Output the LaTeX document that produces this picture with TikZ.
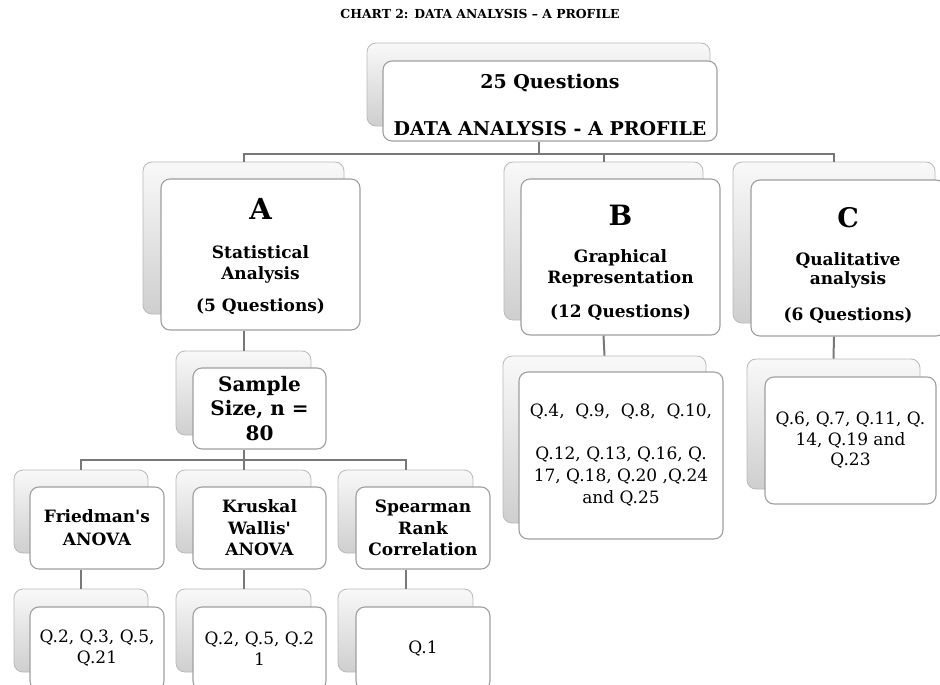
\documentclass[tikz,border=0pt]{standalone}
\usepackage{fontspec}
\setmainfont{DejaVu Serif}
% card placed by its corners: name, style, x1, y1, x2, y2, text
\newcommand\placecard[7]{%
  \pgfmathsetmacro\cardcx{(#3+#5)/2}%
  \pgfmathsetmacro\cardcy{(#4+#6)/2}%
  \pgfmathsetmacro\cardw{#5-#3}%
  \pgfmathsetmacro\cardh{#6-#4}%
  \node[#2, minimum width=\cardw pt, minimum height=\cardh pt] (#1) at (\cardcx,\cardcy) {#7};}
% invisible strut that adds room above the first line of a card
\newcommand\toproom[1]{\rule{0pt}{#1}}
\begin{document}
\begin{tikzpicture}[x=1pt,y=-1pt,
  backbox/.style={draw=gray!55, line width=0.8pt, rounded corners=9pt,
                  top color=gray!5, bottom color=gray!38, inner sep=0pt},
  frontbox/.style={draw=gray!75, line width=1.1pt, rounded corners=9pt,
                   fill=white, inner sep=0pt, align=center, text=black},
  headfont/.style={font=\fontsize{17}{21}\selectfont\bfseries},
  leaffont/.style={font=\fontsize{17}{21}\selectfont},
  conn/.style={draw={rgb,255:red,120;green,120;blue,120}, line width=2pt}]
\useasboundingbox (0,0) rectangle (940,685);
\clip (0,0) rectangle (940,685);

% title
\node[font=\fontsize{12.4}{14}\selectfont\bfseries] (title) at (480,14)
  {CHART 2: DATA ANALYSIS – A PROFILE};

% back cards
\placecard{root-b}{backbox}{367}{43}{710}{126}{}
\placecard{A-b}{backbox}{143}{162}{344}{314}{}
\placecard{B-b}{backbox}{504}{162}{703}{320}{}
\placecard{C-b}{backbox}{733}{162}{935}{323}{}
\placecard{S-b}{backbox}{176}{351}{311}{435}{}
\placecard{F-b}{backbox}{14}{470}{148}{553}{}
\placecard{K-b}{backbox}{176}{470}{311}{553}{}
\placecard{R-b}{backbox}{338}{470}{473}{553}{}
\placecard{FQ-b}{backbox}{14}{589}{148}{672}{}
\placecard{KQ-b}{backbox}{176}{589}{311}{672}{}
\placecard{RQ-b}{backbox}{338}{589}{473}{672}{}
\placecard{BQ-b}{backbox}{503}{356}{706}{523}{}
\placecard{CQ-b}{backbox}{747}{359}{920}{489}{}

% front cards
\placecard{root}{frontbox, font=\fontsize{19}{23}\selectfont\bfseries}{383}{61}{717}{141}
  {\toproom{23pt}25 Questions\\[24pt]DATA ANALYSIS - A PROFILE}
\placecard{A}{frontbox, headfont}{161}{179}{360}{330}
  {\toproom{25pt}{\fontsize{29}{29}\selectfont A}\\[18pt]Statistical\\Analysis\\[11pt](5 Questions)}
\placecard{B}{frontbox, headfont}{521}{179}{720}{335}
  {\toproom{32pt}{\fontsize{28}{28}\selectfont B}\\[16pt]Graphical\\Representation\\[13pt](12 Questions)}
\placecard{C}{frontbox, headfont}{751}{180}{945}{336}
  {\toproom{35pt}{\fontsize{27}{27}\selectfont C}\\[17pt]Qualitative\\[-2pt]analysis\\[15pt](6 Questions)}
\placecard{S}{frontbox, font=\fontsize{20}{24.5}\selectfont\bfseries}{193}{368}{326}{449}
  {Sample\\Size, n =\\80}
\placecard{F}{frontbox, font=\fontsize{17}{23}\selectfont\bfseries}{30}{487}{164}{569}
  {Friedman\textquotesingle s\\ANOVA}
\placecard{K}{frontbox, font=\fontsize{17}{21.5}\selectfont\bfseries}{193}{487}{326}{569}
  {Kruskal\\Wallis\textquotesingle\\ANOVA}
\placecard{R}{frontbox, font=\fontsize{17}{21.5}\selectfont\bfseries}{356}{487}{490}{569}
  {Spearman\\Rank\\Correlation}
\placecard{FQ}{frontbox, leaffont}{30}{607}{164}{690}
  {Q.2, Q.3, Q.5,\\Q.21}
\placecard{KQ}{frontbox, leaffont}{193}{607}{326}{690}
  {Q.2, Q.5, Q.2\\1}
\placecard{RQ}{frontbox, leaffont}{356}{607}{490}{690}
  {Q.1}
\placecard{BQ}{frontbox, font=\fontsize{17}{22}\selectfont}{519}{372}{723}{539}
  {Q.4,\ \ Q.9,\ \ Q.8,\ \ Q.10,\\[21pt]Q.12, Q.13, Q.16, Q.\\17, Q.18, Q.20 ,Q.24\\and Q.25}
\placecard{CQ}{frontbox, font=\fontsize{17}{20.5}\selectfont}{765}{377}{936}{504}
  {Q.6, Q.7, Q.11, Q.\\14, Q.19 and\\Q.23}

% connectors
\draw[conn] (root-b.center |- root.south) -- ++(0,12) coordinate (rootbus);
\draw[conn] (rootbus) -| (A-b.north);
\draw[conn] (rootbus) -| (B-b.north);
\draw[conn] (rootbus) -| (C-b.north);
\draw[conn] (A-b.center |- A.south) -- (S-b.north);
\draw[conn] (S-b.center |- S.south) -- ++(0,10) coordinate (sbus);
\draw[conn] (sbus) -| (F-b.north);
\draw[conn] (sbus) -| (K-b.north);
\draw[conn] (sbus) -| (R-b.north);
\draw[conn] (F-b.center |- F.south) -- (FQ-b.north);
\draw[conn] (K-b.center |- K.south) -- (KQ-b.north);
\draw[conn] (R-b.center |- R.south) -- (RQ-b.north);
\draw[conn] (B-b.center |- B.south) -- (BQ-b.north);
\draw[conn] (C-b.center |- C.south) -- (CQ-b.north);
\end{tikzpicture}
\end{document}
